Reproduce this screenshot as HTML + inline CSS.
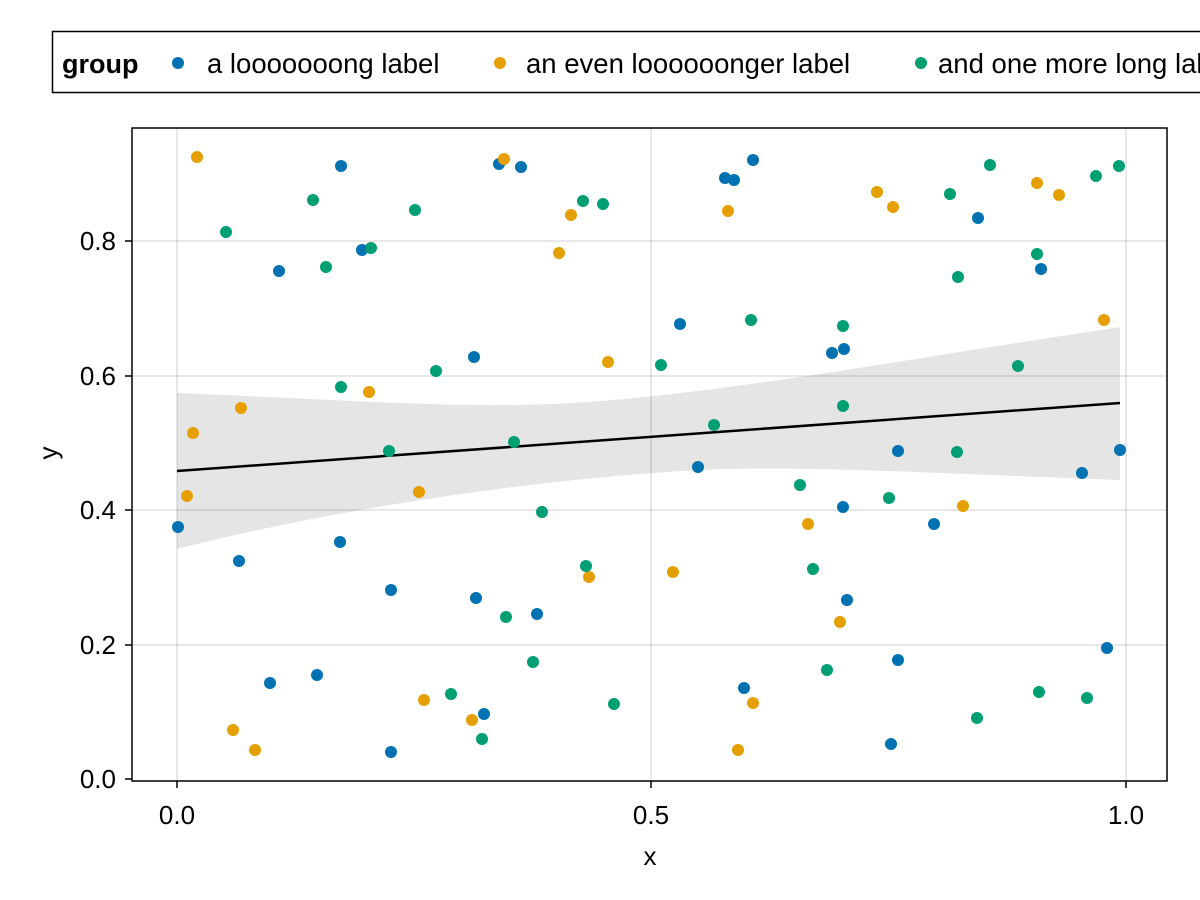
<!DOCTYPE html>
<html><head><style>body{margin:0;background:#fff}svg{display:block}text{font-family:"Liberation Sans",sans-serif;fill:#000}</style></head><body>
<svg width="1200" height="900" viewBox="0 0 1200 900" xmlns="http://www.w3.org/2000/svg">
<rect width="1200" height="900" fill="#fff"/>
<rect x="52.5" y="31.5" width="1160" height="61" fill="#fff" stroke="#000" stroke-width="1.5"/>
<text x="62" y="73" font-size="27" font-weight="bold">group</text>
<circle cx="178" cy="63" r="6" fill="#0072B2"/><text x="207" y="73" font-size="27.5">a looooooong label</text>
<circle cx="500" cy="63" r="6" fill="#E69F00"/><text x="526" y="73" font-size="27.5">an even loooooonger label</text>
<circle cx="921" cy="63" r="6" fill="#009E73"/><text x="938" y="73" font-size="27.5">and one more long label</text>
<g stroke="#000" stroke-opacity="0.12" stroke-width="1.5">
<line x1="177" y1="128" x2="177" y2="781"/><line x1="651" y1="128" x2="651" y2="781"/><line x1="1126" y1="128" x2="1126" y2="781"/>
<line x1="132" y1="645" x2="1167" y2="645"/><line x1="132" y1="510" x2="1167" y2="510"/><line x1="132" y1="376" x2="1167" y2="376"/><line x1="132" y1="241" x2="1167" y2="241"/>
</g>
<path d="M177,393 C350,400 450,408 550,404 C700,398 900,360 1120,327 L1120,480 C950,474 800,465 700,470 C550,478 350,505 177,549 Z" fill="#000" fill-opacity="0.1"/>
<line x1="177" y1="471" x2="1120" y2="403" stroke="#000" stroke-width="2.5"/>
<g fill="#0072B2">
<circle cx="178" cy="527" r="6"/><circle cx="239" cy="561" r="6"/><circle cx="270" cy="683" r="6"/><circle cx="279" cy="271" r="6"/><circle cx="317" cy="675" r="6"/><circle cx="340" cy="542" r="6"/><circle cx="341" cy="166" r="6"/><circle cx="362" cy="250" r="6"/><circle cx="391" cy="590" r="6"/><circle cx="391" cy="752" r="6"/><circle cx="474" cy="357" r="6"/><circle cx="476" cy="598" r="6"/><circle cx="484" cy="714" r="6"/><circle cx="499" cy="164" r="6"/><circle cx="521" cy="167" r="6"/><circle cx="537" cy="614" r="6"/><circle cx="680" cy="324" r="6"/><circle cx="698" cy="467" r="6"/><circle cx="725" cy="178" r="6"/><circle cx="734" cy="180" r="6"/><circle cx="744" cy="688" r="6"/><circle cx="753" cy="160" r="6"/><circle cx="832" cy="353" r="6"/><circle cx="844" cy="349" r="6"/><circle cx="843" cy="507" r="6"/><circle cx="847" cy="600" r="6"/><circle cx="891" cy="744" r="6"/><circle cx="898" cy="451" r="6"/><circle cx="898" cy="660" r="6"/><circle cx="934" cy="524" r="6"/><circle cx="978" cy="218" r="6"/><circle cx="1041" cy="269" r="6"/><circle cx="1082" cy="473" r="6"/><circle cx="1107" cy="648" r="6"/><circle cx="1120" cy="450" r="6"/>
</g>
<g fill="#E69F00">
<circle cx="197" cy="157" r="6"/><circle cx="187" cy="496" r="6"/><circle cx="193" cy="433" r="6"/><circle cx="241" cy="408" r="6"/><circle cx="233" cy="730" r="6"/><circle cx="255" cy="750" r="6"/><circle cx="369" cy="392" r="6"/><circle cx="419" cy="492" r="6"/><circle cx="424" cy="700" r="6"/><circle cx="472" cy="720" r="6"/><circle cx="504" cy="159" r="6"/><circle cx="559" cy="253" r="6"/><circle cx="571" cy="215" r="6"/><circle cx="589" cy="577" r="6"/><circle cx="608" cy="362" r="6"/><circle cx="673" cy="572" r="6"/><circle cx="728" cy="211" r="6"/><circle cx="738" cy="750" r="6"/><circle cx="753" cy="703" r="6"/><circle cx="808" cy="524" r="6"/><circle cx="840" cy="622" r="6"/><circle cx="877" cy="192" r="6"/><circle cx="893" cy="207" r="6"/><circle cx="963" cy="506" r="6"/><circle cx="1037" cy="183" r="6"/><circle cx="1059" cy="195" r="6"/><circle cx="1104" cy="320" r="6"/>
</g>
<g fill="#009E73">
<circle cx="226" cy="232" r="6"/><circle cx="313" cy="200" r="6"/><circle cx="326" cy="267" r="6"/><circle cx="341" cy="387" r="6"/><circle cx="371" cy="248" r="6"/><circle cx="389" cy="451" r="6"/><circle cx="415" cy="210" r="6"/><circle cx="436" cy="371" r="6"/><circle cx="451" cy="694" r="6"/><circle cx="482" cy="739" r="6"/><circle cx="506" cy="617" r="6"/><circle cx="514" cy="442" r="6"/><circle cx="533" cy="662" r="6"/><circle cx="542" cy="512" r="6"/><circle cx="583" cy="201" r="6"/><circle cx="586" cy="566" r="6"/><circle cx="603" cy="204" r="6"/><circle cx="614" cy="704" r="6"/><circle cx="661" cy="365" r="6"/><circle cx="714" cy="425" r="6"/><circle cx="751" cy="320" r="6"/><circle cx="800" cy="485" r="6"/><circle cx="813" cy="569" r="6"/><circle cx="827" cy="670" r="6"/><circle cx="843" cy="326" r="6"/><circle cx="843" cy="406" r="6"/><circle cx="889" cy="498" r="6"/><circle cx="950" cy="194" r="6"/><circle cx="957" cy="452" r="6"/><circle cx="958" cy="277" r="6"/><circle cx="977" cy="718" r="6"/><circle cx="990" cy="165" r="6"/><circle cx="1018" cy="366" r="6"/><circle cx="1037" cy="254" r="6"/><circle cx="1039" cy="692" r="6"/><circle cx="1087" cy="698" r="6"/><circle cx="1096" cy="176" r="6"/><circle cx="1119" cy="166" r="6"/>
</g>
<rect x="132" y="128" width="1035" height="653" fill="none" stroke="#000" stroke-width="1.5"/>
<g stroke="#000" stroke-width="1.5">
<line x1="177" y1="781" x2="177" y2="788"/><line x1="651" y1="781" x2="651" y2="788"/><line x1="1126" y1="781" x2="1126" y2="788"/>
<line x1="125" y1="779" x2="132" y2="779"/><line x1="125" y1="645" x2="132" y2="645"/><line x1="125" y1="510" x2="132" y2="510"/><line x1="125" y1="376" x2="132" y2="376"/><line x1="125" y1="241" x2="132" y2="241"/>
</g>
<g font-size="26" text-anchor="middle">
<text x="177" y="824">0.0</text><text x="651" y="824">0.5</text><text x="1126" y="824">1.0</text>
<text x="650" y="865">x</text>
</g>
<g font-size="26" text-anchor="end">
<text x="116" y="788">0.0</text><text x="116" y="654">0.2</text><text x="116" y="519">0.4</text><text x="116" y="385">0.6</text><text x="116" y="250">0.8</text>
</g>
<text x="0" y="0" font-size="26" text-anchor="middle" transform="translate(57,453) rotate(-90)">y</text>
</svg>
</body></html>
